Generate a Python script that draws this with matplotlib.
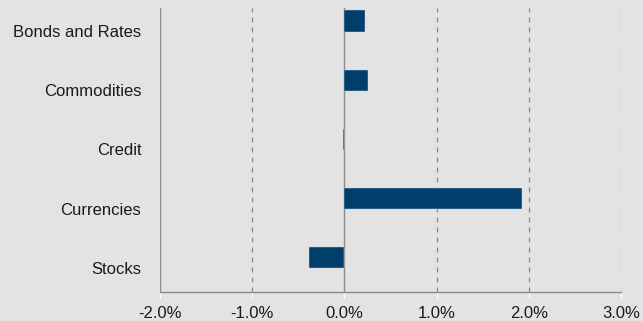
import numpy as np
import matplotlib.pyplot as plt
import matplotlib.transforms as mtransforms
from matplotlib.ticker import FuncFormatter

plt.rcParams['font.family'] = ['Liberation Sans', 'DejaVu Sans']

categories = ['Bonds and Rates', 'Commodities', 'Credit', 'Currencies', 'Stocks']
values = [0.22, 0.26, -0.02, 1.93, -0.38]   # percent
x_ticks = [-2, -1, 0, 1, 2, 3]

BG = '#e3e3e3'
BAR = '#003f6b'
GRID = '#8a8a8a'

fig = plt.figure(figsize=(6.43, 3.21), dpi=100, facecolor=BG)
ax = fig.add_axes([160 / 643, 29 / 321, 461 / 643, 284 / 321])
ax.set_facecolor(BG)

ypos = np.arange(len(categories))
ax.barh(ypos, values, height=0.36, color=BAR, edgecolor='#d0d8e0', linewidth=0.3, zorder=3)

ax.set_xlim(-2, 3)
ax.set_ylim(4.58, -0.22)
ax.set_yticks(ypos)
ax.set_yticklabels(categories)
ax.set_xticks(x_ticks)
ax.xaxis.set_major_formatter(FuncFormatter(lambda v, p: f'{v:.1f}%'))

# grid: solid at the left edge and at zero, dashed elsewhere
for xv in x_ticks:
    if xv in (-2, 0):
        ax.axvline(xv, color=GRID, lw=1.0, zorder=1)
    else:
        ax.axvline(xv, color=GRID, lw=0.9, ls=(0, (4, 4)), zorder=1)

for s in ('top', 'right', 'left'):
    ax.spines[s].set_visible(False)
ax.spines['bottom'].set_color(GRID)
ax.spines['bottom'].set_linewidth(1.0)

ax.tick_params(axis='y', length=0, pad=13.5, labelsize=12, labelcolor='#1a1a1a')
ax.tick_params(axis='x', length=4, color='white', width=1, pad=6, labelsize=12, labelcolor='#1a1a1a')

# category labels sit a little below their bars
shift = mtransforms.ScaledTranslation(0, -10 / 100, fig.dpi_scale_trans)
for lbl in ax.get_yticklabels():
    lbl.set_transform(lbl.get_transform() + shift)

fig.savefig('out.png', dpi=100, facecolor=BG)
